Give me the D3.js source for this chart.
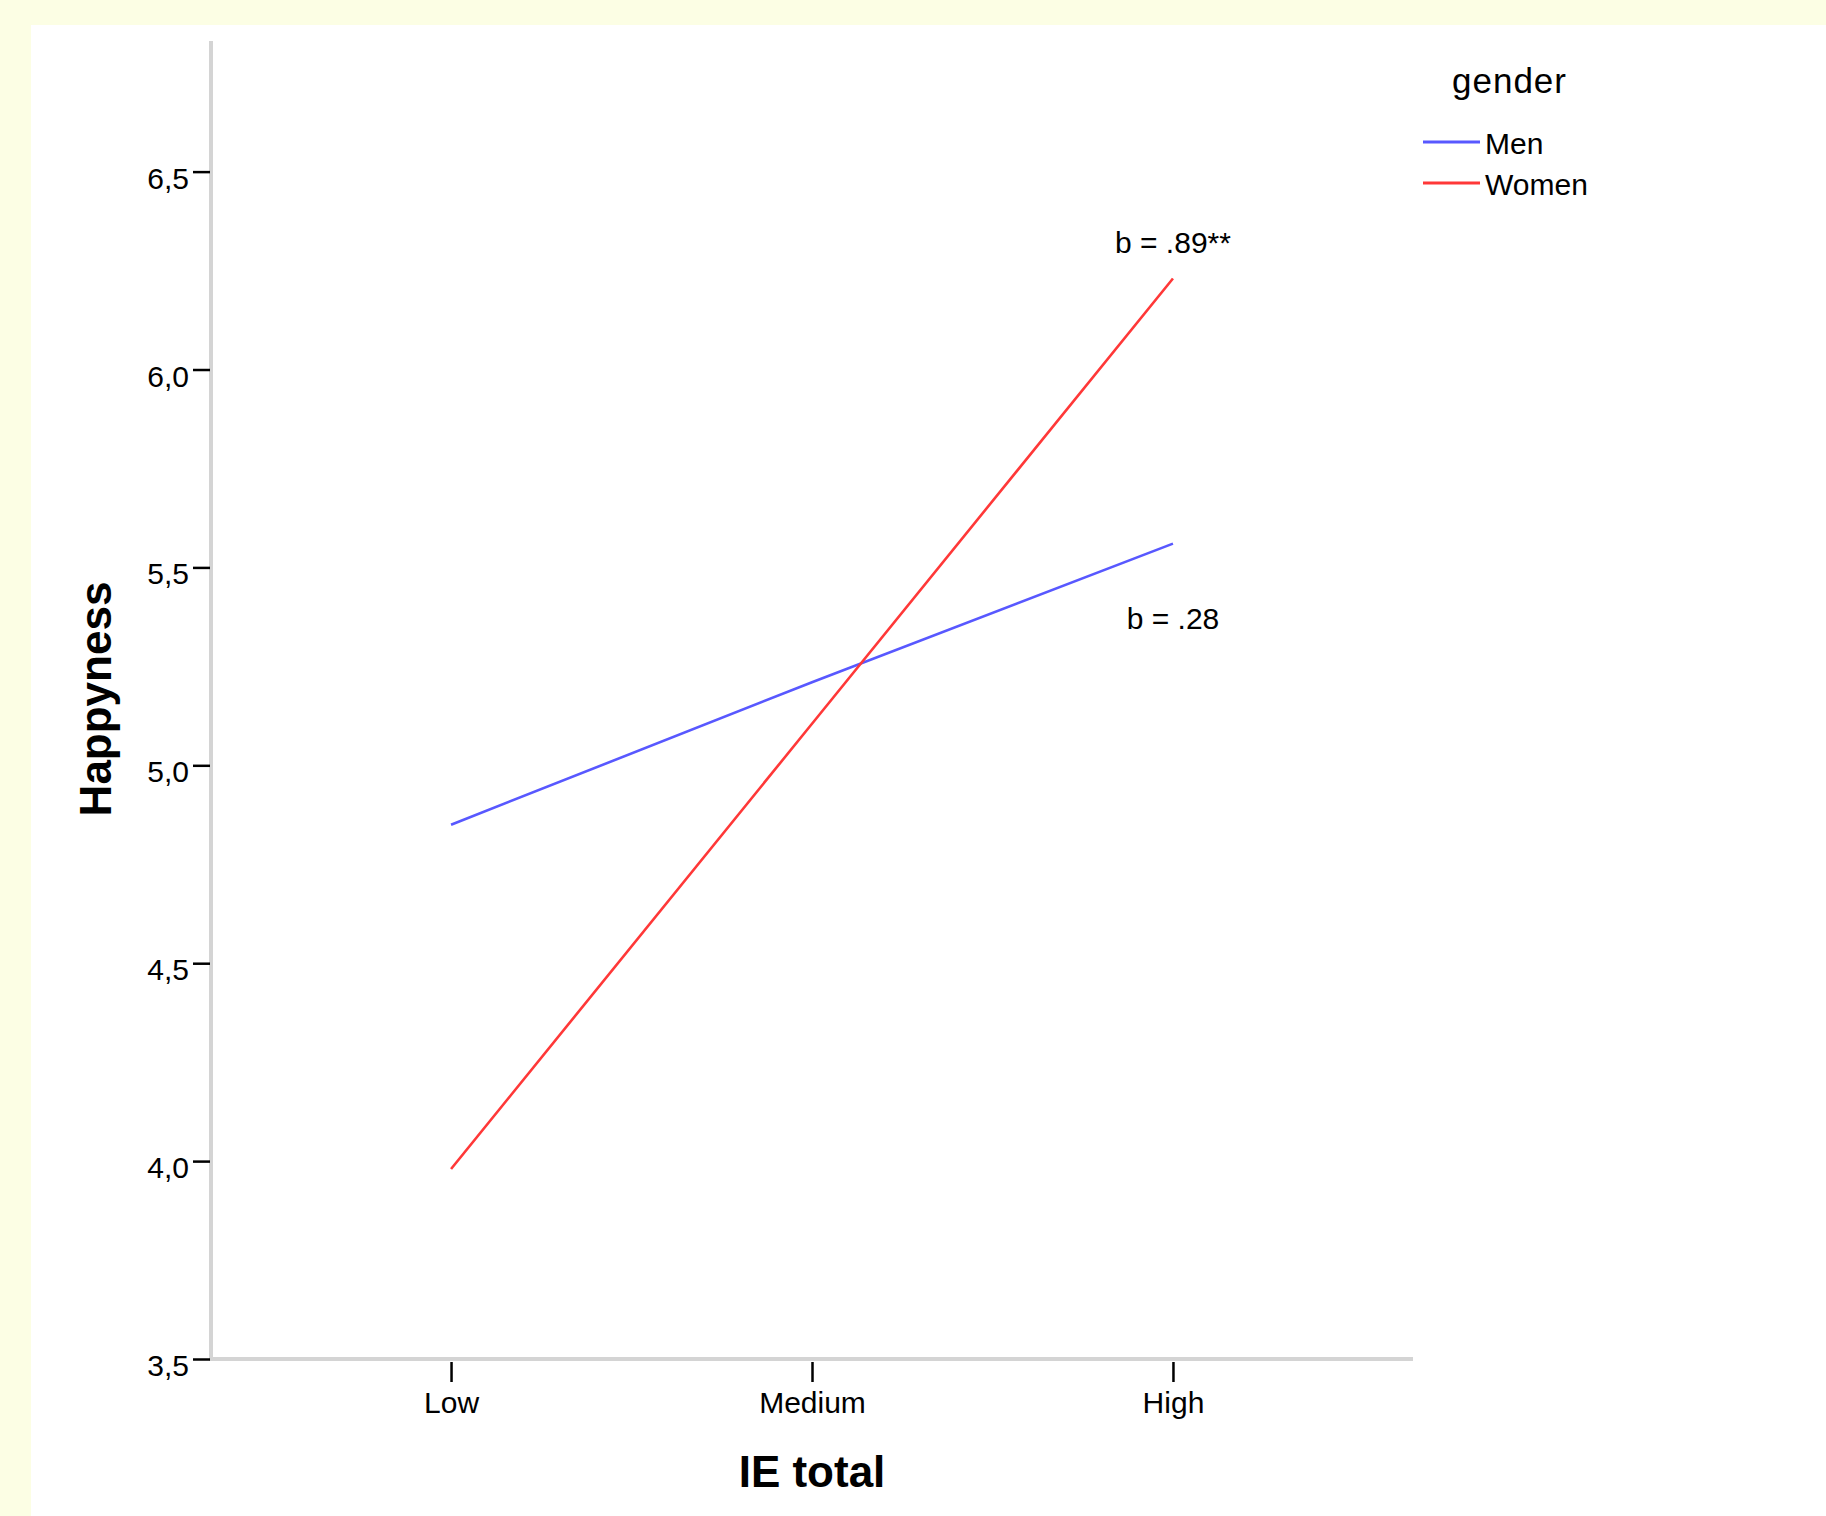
<!DOCTYPE html>
<html>
<head>
<meta charset="utf-8">
<script src="https://cdn.jsdelivr.net/npm/d3@7"></script>
<style>
  body { margin: 0; background: #fcfee4; }
  svg { display: block; }
  text { font-family: "Liberation Sans", Arial, sans-serif; fill: #000; }
</style>
</head>
<body>
<script>
// data
var levels = ["Low", "Medium", "High"];
var menValues = [4.85, 5.21, 5.56];
var womenValues = [3.98, 5.105, 6.23];
var seriesNames = ["Men", "Women"];
var seriesColors = ["#5858ff", "#ff3838"];
var yTicks = [3.5, 4.0, 4.5, 5.0, 5.5, 6.0, 6.5];
var slopeLabels = ["b = .28", "b = .89**"];

var width = 1826, height = 1516;

var svg = d3.select("body").append("svg")
    .attr("width", width)
    .attr("height", height);

// white chart panel on the cream page
svg.append("rect")
    .attr("x", 31).attr("y", 25)
    .attr("width", width - 31).attr("height", height - 25)
    .attr("fill", "#fff");

var x = d3.scalePoint().domain(levels).range([211, 1413]).padding(0.665);
var y = d3.scaleLinear().domain([3.5, 6.83]).range([1359, 41]);

// axis lines (grey, SPSS style)
svg.append("line")
    .attr("x1", x.range()[0]).attr("x2", x.range()[0])
    .attr("y1", y(6.83)).attr("y2", y(3.5))
    .attr("stroke", "#d4d4d4").attr("stroke-width", 4);
svg.append("line")
    .attr("x1", x.range()[0] - 2).attr("x2", x.range()[1])
    .attr("y1", y(3.5)).attr("y2", y(3.5))
    .attr("stroke", "#d4d4d4").attr("stroke-width", 4);

// y axis ticks + labels
var yAxis = d3.axisLeft(y).tickValues(yTicks).tickSize(17).tickPadding(4)
    .tickFormat(function(d){ return d3.format(".1f")(d).replace(".", ","); });
var gy = svg.append("g").attr("transform", "translate(210,0)").call(yAxis);
gy.select(".domain").remove();
gy.selectAll(".tick line").attr("stroke", "#000").attr("stroke-width", 2.5);
gy.selectAll(".tick text").attr("font-size", 30).attr("dy", "0.55em").attr("fill", "#000");

// x axis ticks + labels
var xAxis = d3.axisBottom(x).tickSize(20).tickPadding(10);
var gx = svg.append("g").attr("transform", "translate(0,1362)").call(xAxis);
gx.select(".domain").remove();
gx.selectAll(".tick line").attr("stroke", "#000").attr("stroke-width", 2.5);
gx.selectAll(".tick text").attr("font-size", 30).attr("fill", "#000");

// lines
var line = d3.line()
    .x(function(d, i){ return x(levels[i]); })
    .y(function(d){ return y(d); });

var allSeries = [menValues, womenValues];
svg.append("g").selectAll("path")
    .data(allSeries)
    .enter().append("path")
    .attr("d", line)
    .attr("fill", "none")
    .attr("stroke", function(d, i){ return seriesColors[i]; })
    .attr("stroke-width", 2.6);

// slope annotations above/below the High end
svg.append("text")
    .attr("x", x("High")).attr("y", 629)
    .attr("text-anchor", "middle").attr("font-size", 30)
    .text(slopeLabels[0]);
svg.append("text")
    .attr("x", x("High")).attr("y", 253)
    .attr("text-anchor", "middle").attr("font-size", 30)
    .text(slopeLabels[1]);

// axis titles
svg.append("text")
    .attr("x", x("Medium")).attr("y", 1487)
    .attr("text-anchor", "middle").attr("font-size", 44).attr("font-weight", "bold")
    .text("IE total");
svg.append("text")
    .attr("transform", "translate(111,699) rotate(-90)")
    .attr("text-anchor", "middle").attr("font-size", 44).attr("font-weight", "bold")
    .text("Happyness");

// legend
svg.append("text")
    .attr("x", 1452).attr("y", 93)
    .attr("font-size", 35).attr("letter-spacing", 1)
    .text("gender");
var leg = svg.append("g").selectAll("g")
    .data(seriesNames)
    .enter().append("g")
    .attr("transform", function(d, i){ return "translate(1423," + (142 + i * 41) + ")"; });
leg.append("line")
    .attr("x1", 0).attr("x2", 57)
    .attr("stroke", function(d, i){ return seriesColors[i]; })
    .attr("stroke-width", 3);
leg.append("text")
    .attr("x", 62).attr("y", 12)
    .attr("font-size", 30)
    .text(function(d){ return d; });
</script>
</body>
</html>
